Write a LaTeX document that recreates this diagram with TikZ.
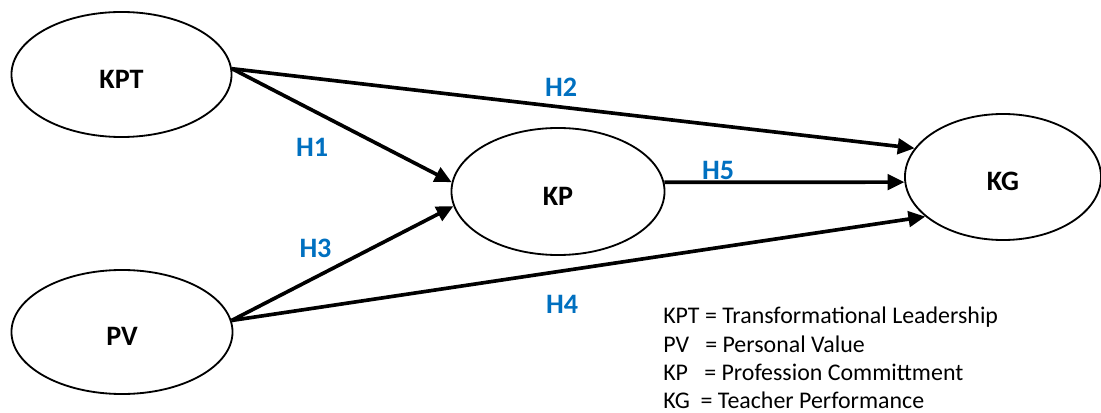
\documentclass[tikz,border=0pt]{standalone}
\usepackage{fontspec}
\setmainfont{Carlito}
\usetikzlibrary{shapes.geometric,arrows.meta}
\definecolor{hblue}{RGB}{0,112,192}

\begin{document}
\begin{tikzpicture}[x=0.025cm,y=-0.025cm]
     \useasboundingbox (0,0) rectangle (1101,413);
     \tikzstyle{construct} = [ellipse,draw,line width=1.3pt,inner sep=0pt,
          text height=19.5pt,text depth=0pt,
          font=\bfseries\fontsize{20}{24}\selectfont]
     \tikzstyle{hyp} = [text=hblue,inner sep=0pt,
          font=\bfseries\fontsize{20}{24}\selectfont]
     \tikzstyle{effect} = [-{Triangle[length=12pt,width=11pt]},line width=2.6pt]
     \tikzstyle{legend} = [anchor=base west,inner sep=0pt,
          font=\fontsize{17}{20}\selectfont]
     \node[construct,minimum width=5.5cm,minimum height=3.125cm] (kpt) at (121.5,74.5) {KPT};
     \node[construct,minimum width=5.525cm,minimum height=3.1cm] (pv) at (122,332) {PV};
     \node[construct,minimum width=5.325cm,minimum height=3.175cm] (kp) at (558,191.5) {KP};
     \node[construct,minimum width=4.9cm,minimum height=3.15cm] (kg) at (1003,177) {KG};
     \draw [effect] (kpt.3) to (kp.175);
     \draw [effect] (kpt.3) to (kg.162);
     \draw [effect] (pv.6) to (kp.188);
     \draw [effect] (pv.6) to (kg.207);
     \draw [effect] (kp.5) to (kg.183);
     \node[hyp] (h1) at (312,147) {H1};
     \node[hyp] (h2) at (561,87) {H2};
     \node[hyp] (h3) at (315.5,248) {H3};
     \node[hyp] (h4) at (562,304) {H4};
     \node[hyp] (h5) at (718,170) {H5};
     \node[legend] (l1) at (663,324) {KPT = Transformational Leadership};
     \node[legend] (l2) at (663,352.5) {PV\ \ \ = Personal Value};
     \node[legend] (l3) at (663,381) {KP\ \ \ = Profession Committment};
     \node[legend] (l4) at (663,408.5) {KG\ \ = Teacher Performance};
\end{tikzpicture}
\end{document}
